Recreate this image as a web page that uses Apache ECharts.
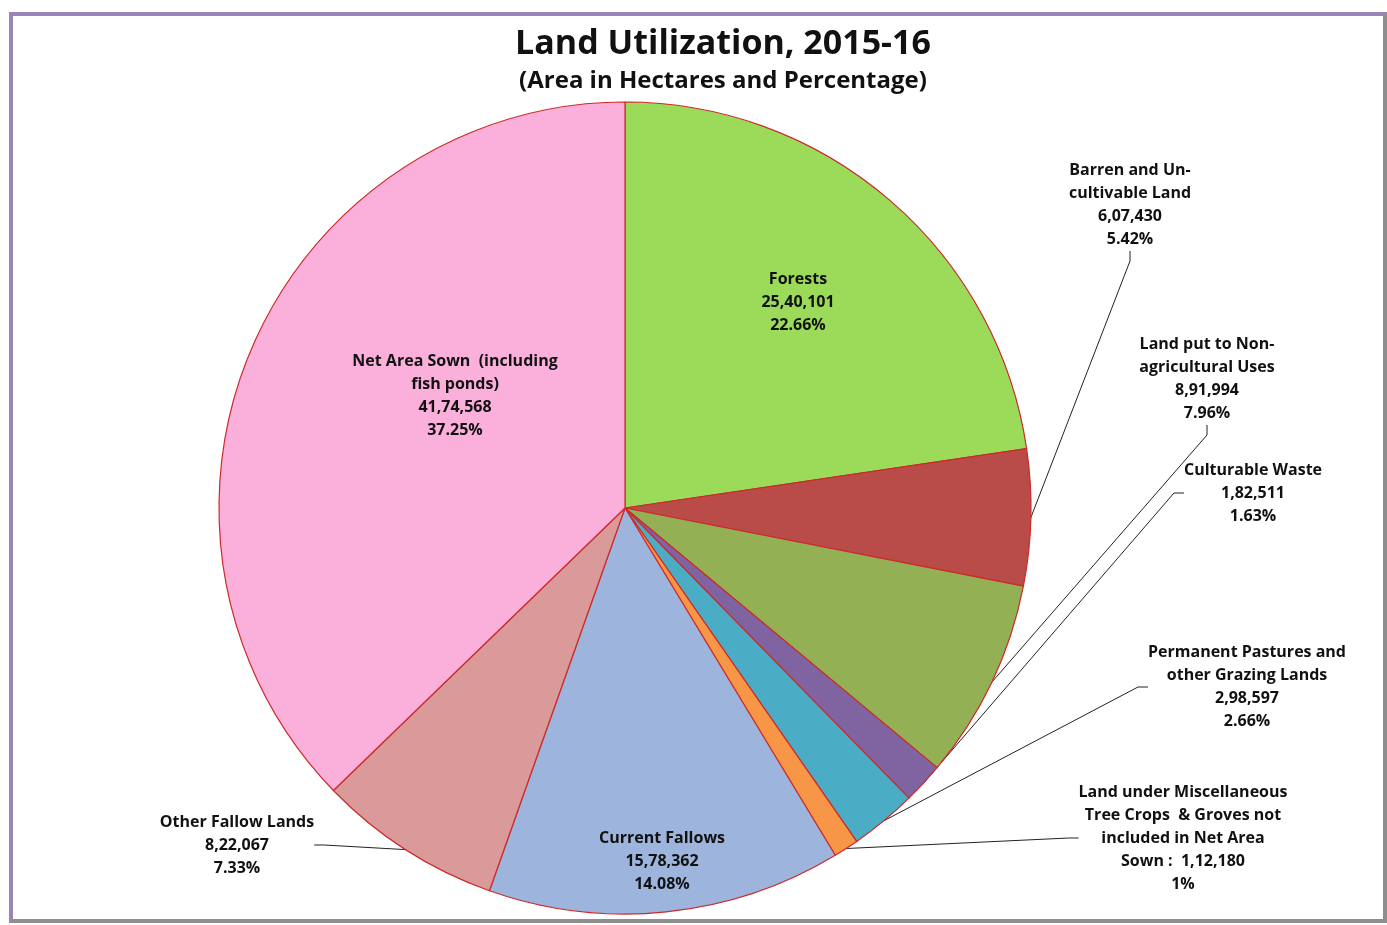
<!DOCTYPE html>
<html>
<head>
<meta charset="utf-8">
<script src="https://cdn.jsdelivr.net/npm/echarts@6/dist/echarts.min.js"></script>
<style>
  html, body { margin: 0; padding: 0; background: #fff; }
  #frame {
    position: absolute; left: 9px; top: 12px; width: 1370px; height: 903px;
    border-top: 4px solid #9b85b8; border-left: 4px solid #9b85b8;
    border-right: 4px solid #8e8e8e; border-bottom: 4px solid #8e8e8e;
  }
  #main { position: absolute; left: 0; top: 0; width: 1387px; height: 925px; }
</style>
</head>
<body>
<div id="frame"></div>
<div id="main"></div>
<script>
// 数据
var categories = [
  "Forests",
  "Barren and Un-\ncultivable Land",
  "Land put to Non-\nagricultural Uses",
  "Culturable Waste",
  "Permanent Pastures and\nother Grazing Lands",
  "Land under Miscellaneous\nTree Crops  & Groves not\nincluded in Net Area\nSown :",
  "Current Fallows",
  "Other Fallow Lands",
  "Net Area Sown  (including\nfish ponds)"
];
var areas = [2540101, 607430, 891994, 182511, 298597, 112180, 1578362, 822067, 4174568];
var percents = ["22.66%", "5.42%", "7.96%", "1.63%", "2.66%", "1%", "14.08%", "7.33%", "37.25%"];

var colors = ["#9cdb5a", "#b94c49", "#93b054", "#8064a2", "#4bacc6", "#f79646", "#9db4dc", "#d99a99", "#fab0da"];
// label anchor (centre of text block) for each slice
var labelPos = [
  [798, 302], [1130, 205], [1207, 379], [1253, 493], [1247, 687],
  [1183, 838], [662, 861], [237, 845], [455, 396]
];
var insideIdx = [0, 6, 8];

// 印度数字格式 12,34,567
function fmtIN(n) {
  var s = String(n);
  var last3 = s.slice(-3);
  var rest = s.slice(0, -3);
  if (rest) rest = rest.replace(/\B(?=(\d{2})+(?!\d))/g, ",") + ",";
  return rest + last3;
}

var myChart = echarts.init(document.getElementById("main"));

var option = {
  title: {
    text: "Land Utilization, 2015-16",
    subtext: "(Area in Hectares and Percentage)",
    left: 718,
    textAlign: "center",
    top: 22,
    itemGap: 8,
    textStyle: { fontFamily: "Open Sans", fontWeight: "bold", fontSize: 34, color: "#111" },
    subtextStyle: { fontFamily: "Open Sans", fontWeight: "bold", fontSize: 24, color: "#111" }
  },
  series: [
    {
      type: "pie",
      center: [625, 508],
      radius: [0, 406],
      startAngle: 90,
      clockwise: true,
      avoidLabelOverlap: false,
      itemStyle: { borderColor: "#cc2a2a", borderWidth: 1.2 },
      label: {
        show: true,
        color: "#111",
        fontFamily: "Open Sans",
        fontWeight: "bold",
        fontSize: 16,
        lineHeight: 23,
        align: "center",
        formatter: function (p) {
          var name = categories[p.dataIndex];
          var sep = /:$/.test(name) ? "  " : "\n";
          return name + sep + fmtIN(areas[p.dataIndex]) + "\n" + percents[p.dataIndex];
        }
      },
      labelLine: {
        show: true,
        length: 10,
        length2: 10,
        lineStyle: { color: "#222", width: 1 }
      },
      labelLayout: function (params) {
        var pos = labelPos[params.dataIndex];
        return { x: pos[0], y: pos[1], align: "center", verticalAlign: "middle" };
      },
      data: areas.map(function (v, i) {
        var inside = insideIdx.indexOf(i) >= 0;
        return {
          name: categories[i],
          value: v,
          itemStyle: { color: colors[i] },
          labelLine: { show: !inside }
        };
      })
    }
  ]
};

myChart.setOption(option);
</script>
</body>
</html>
